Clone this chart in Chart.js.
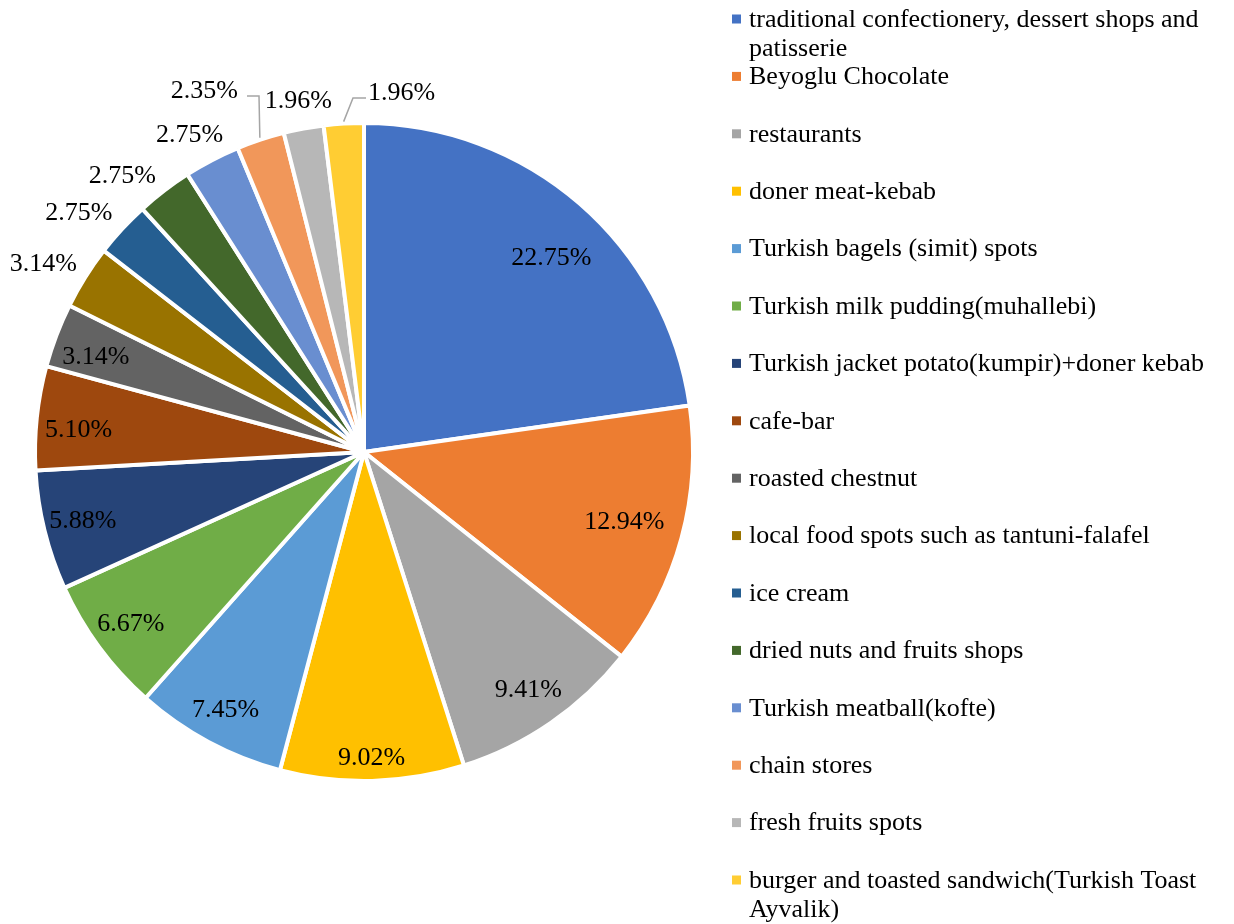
<!DOCTYPE html>
<html>
<head>
<meta charset="utf-8">
<title>Food spots share</title>
<script src="https://cdn.jsdelivr.net/npm/chart.js@4.4.1/dist/chart.umd.min.js"></script>
<style>
  html, body { margin: 0; padding: 0; background: #fff; }
  #wrap { width: 1234px; height: 924px; position: relative; }
</style>
</head>
<body>
<div id="wrap"><canvas id="pie" width="1234" height="924"></canvas></div>
<script>
// categories and shares (%)
const categories = [
    ['traditional confectionery, dessert shops and', 'patisserie'],
    ['Beyoglu Chocolate'],
    ['restaurants'],
    ['doner meat-kebab'],
    ['Turkish bagels (simit) spots'],
    ['Turkish milk pudding(muhallebi)'],
    ['Turkish jacket potato(kumpir)+doner kebab'],
    ['cafe-bar'],
    ['roasted chestnut'],
    ['local food spots such as tantuni-falafel'],
    ['ice cream'],
    ['dried nuts and fruits shops'],
    ['Turkish meatball(kofte)'],
    ['chain stores'],
    ['fresh fruits spots'],
    ['burger and toasted sandwich(Turkish Toast', 'Ayvalik)']
];
const shares = [22.75, 12.94, 9.41, 9.02, 7.45, 6.67, 5.88, 5.10, 3.14, 3.14, 2.75, 2.75, 2.75, 2.35, 1.96, 1.96];

const sliceColors = [
    '#4472C4', '#ED7D31', '#A5A5A5', '#FFC000', '#5B9BD5', '#70AD47',
    '#264478', '#9E480E', '#636363', '#997300', '#255E91', '#43682B',
    '#698ED0', '#F1975A', '#B7B7B7', '#FFCD33'
];

const FONT = '"Liberation Serif", "Times New Roman", serif';
const FONT_SIZE = 26;

// label placement: radius factor per slice (>1 = outside) and a small turn in degrees
const labelRadius = [0.82, 0.82, 0.88, 0.93, 0.89, 0.88, 0.88, 0.87, 0.865,
                     1.13, 1.13, 1.115, 1.10, 1.14, 1.085, 1.09];
const labelTurn = [3, 0, 0, 0, 0, 0, 0, -1.6, -1.3,
                   -1.7, -2.8, -3.8, -1.3, 0, 0, 0];
// slices with a leader line, and where the label sits at its end
const leaders = {
    13: { bend: [259, 96], end: [247, 96], align: 'right', off: -9 },
    15: { bend: [353, 98], end: [366, 98], align: 'left', off: 2 }
};

const labelsPlugin = {
    id: 'sliceLabels',
    afterDatasetsDraw(chart) {
        const ctx = chart.ctx;
        const meta = chart.getDatasetMeta(0);
        ctx.save();
        ctx.font = FONT_SIZE + 'px ' + FONT;
        ctx.textBaseline = 'middle';
        meta.data.forEach((arc, i) => {
            const p = arc.getProps(['x', 'y', 'startAngle', 'endAngle', 'outerRadius'], true);
            const mid = (p.startAngle + p.endAngle) / 2;
            const txt = shares[i].toFixed(2) + '%';
            const ld = leaders[i];
            ctx.fillStyle = '#000';
            if (ld) {
                const sx = p.x + Math.cos(mid) * (p.outerRadius + 2);
                const sy = p.y + Math.sin(mid) * (p.outerRadius + 2);
                ctx.strokeStyle = '#A5A5A5';
                ctx.lineWidth = 1.5;
                ctx.beginPath();
                ctx.moveTo(sx, sy);
                ctx.lineTo(ld.bend[0], ld.bend[1]);
                ctx.lineTo(ld.end[0], ld.end[1]);
                ctx.stroke();
                ctx.textAlign = ld.align;
                ctx.fillText(txt, ld.end[0] + ld.off, ld.end[1] - 5);
                return;
            }
            const a = mid + labelTurn[i] * Math.PI / 180;
            const r = p.outerRadius * labelRadius[i];
            ctx.textAlign = 'center';
            ctx.fillText(txt, p.x + Math.cos(a) * r, p.y + Math.sin(a) * r);
        });
        ctx.restore();
    }
};

// legend drawn on the right, one entry every 57.4px
const legendPlugin = {
    id: 'sideLegend',
    afterDraw(chart) {
        const ctx = chart.ctx;
        ctx.save();
        ctx.font = FONT_SIZE + 'px ' + FONT;
        ctx.textBaseline = 'middle';
        ctx.textAlign = 'left';
        categories.forEach((lines, i) => {
            const y = 19 + i * 57.4;
            ctx.fillStyle = sliceColors[i];
            ctx.fillRect(732, y - 4.5, 9, 9);
            ctx.fillStyle = '#000';
            lines.forEach((line, k) => {
                ctx.fillText(line, 749, y + 1 + k * 29);
            });
        });
        ctx.restore();
    }
};

new Chart(document.getElementById('pie'), {
    type: 'pie',
    data: {
        labels: categories.map(l => l.join(' ')),
        datasets: [{
            data: shares,
            backgroundColor: sliceColors,
            borderColor: '#fff',
            borderWidth: 4
        }]
    },
    options: {
        responsive: false,
        animation: false,
        layout: { padding: { left: 33, right: 539, top: 121, bottom: 141 } },
        plugins: {
            legend: { display: false },
            tooltip: { enabled: false }
        }
    },
    plugins: [labelsPlugin, legendPlugin]
});
</script>
</body>
</html>
